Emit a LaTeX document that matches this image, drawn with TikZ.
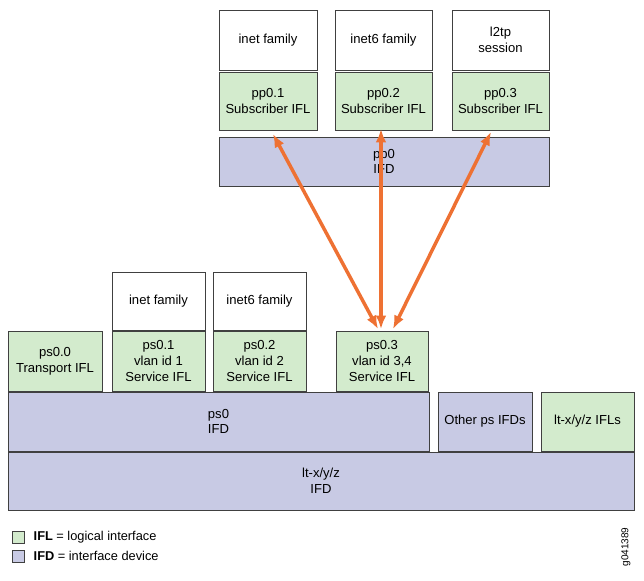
\documentclass[tikz,border=0pt]{standalone}
\usepackage{fontspec}
\setmainfont{Liberation Sans}
\usetikzlibrary{arrows.meta}
\definecolor{ifl}{HTML}{D3EBCD}
\definecolor{ifd}{HTML}{C8CAE4}
\definecolor{arr}{HTML}{EE7133}
\begin{document}
\begin{tikzpicture}[x=0.75pt,y=-0.75pt,
  box/.style={draw=black!75,line width=0.6pt,align=center,font=\fontsize{9.8}{11.8}\selectfont,inner sep=0pt},
  fl/.style={box,fill=ifl},
  fd/.style={box,fill=ifd},
  wh/.style={box,fill=white},
  ar/.style={draw=arr,line width=2.6pt,{Latex[length=10pt,width=8pt]}-{Latex[length=10pt,width=8pt]}}]
\useasboundingbox (0,0) rectangle (644,581);
\newcommand{\bx}[6]{\node[#1,minimum width={(#4-#2)*0.75pt},minimum height={(#5-#3)*0.75pt}] (#6) at ({(#2+#4)/2},{(#3+#5)/2})}
\bx{wh}{219}{10}{317}{70}{a1} {inet family};
\bx{wh}{335}{10}{432}{70}{a2} {inet6 family};
\bx{wh}{452}{10}{549}{70}{a3} {l2tp\\session};
\bx{fl}{219}{72}{317}{130}{p1} {pp0.1\\Subscriber IFL};
\bx{fl}{335}{72}{432}{130}{p2} {pp0.2\\Subscriber IFL};
\bx{fl}{452}{72}{549}{130}{p3} {pp0.3\\Subscriber IFL};
\bx{fd}{219}{137}{549}{186}{pp} {pp0\\IFD};
\bx{wh}{112}{272}{205}{330}{b1} {inet family};
\bx{wh}{213}{272}{306}{330}{b2} {inet6 family};
\bx{fl}{8}{331}{102}{391}{s0} {ps0.0\\Transport IFL};
\bx{fl}{112}{331}{205}{391}{s1} {ps0.1\\vlan id 1\\Service IFL};
\bx{fl}{213}{331}{306}{391}{s2} {ps0.2\\vlan id 2\\Service IFL};
\bx{fl}{336}{331}{428}{391}{s3} {ps0.3\\vlan id 3,4\\Service IFL};
\bx{fd}{8}{392}{429}{451}{ps} {ps0\\IFD};
\bx{fd}{438}{392}{532}{451}{op} {Other ps IFDs};
\bx{fl}{541}{392}{634}{451}{lf} {lt-x/y/z IFLs};
\bx{fd}{8}{452}{634}{510}{lt} {lt-x/y/z\\IFD};
\coordinate (e1) at (273,134); \coordinate (f1) at (378,329);
\coordinate (e2) at (381,129); \coordinate (f2) at (381,329);
\coordinate (e3) at (491,132); \coordinate (f3) at (393,329);
\draw[ar] (e1) -- (f1);
\draw[ar] (e2) -- (f2);
\draw[ar] (e3) -- (f3);
\node[fill=ifl,draw=black!75,line width=0.5pt,minimum size=9pt,inner sep=0pt] (l1) at (18,537) {};
\node[fill=ifd,draw=black!75,line width=0.5pt,minimum size=9pt,inner sep=0pt] (l2) at (18,556) {};
\node[anchor=west,font=\fontsize{9.6}{11}\selectfont] (t1) at (29,537) {\textbf{IFL} = logical interface};
\node[anchor=west,font=\fontsize{9.6}{11}\selectfont] (t2) at (29,556) {\textbf{IFD} = interface device};
\node[rotate=90,font=\fontsize{7.5}{9}\selectfont] (g) at (626,547) {g041389};
\end{tikzpicture}
\end{document}
